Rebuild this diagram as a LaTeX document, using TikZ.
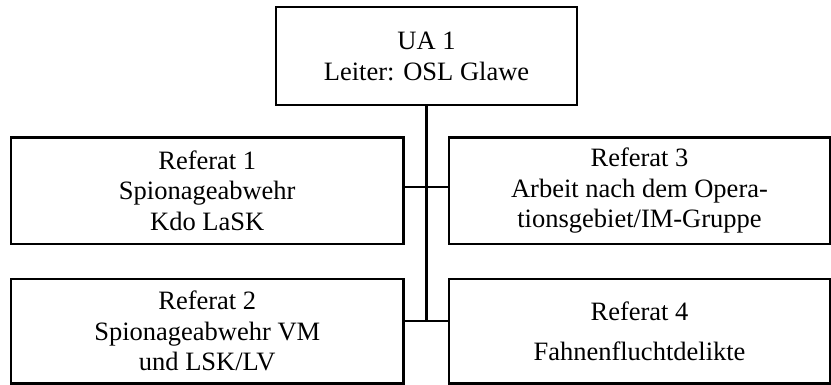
\documentclass[tikz,border=0pt]{standalone}
\usepackage{fontspec}
\setmainfont{Liberation Serif}
\begin{document}
\begin{tikzpicture}[x=1pt, y=-1pt, unitbox/.style={rectangle, draw=black, line width=2.2pt, inner sep=0pt, align=center, font=\fontsize{26.5}{30.5}\selectfont}, link/.style={line width=2.2pt, line cap=rect}]
\useasboundingbox (0,0) rectangle (831,385);
\node[unitbox, minimum width=301pt, minimum height=97.7pt] at (426.5, 56.2) (ua1) {UA 1\\Leiter: OSL Glawe};
\node[unitbox, minimum width=392.5pt, minimum height=106.5pt] at (207.25, 190.75) (ref1) {Referat 1\\Spionageabwehr\\Kdo LaSK};
\node[unitbox, minimum width=381pt, minimum height=106.5pt] at (639.5, 190.75) (ref3) {Referat 3\\Arbeit nach dem Opera-\\tionsgebiet/IM-Gruppe};
\node[unitbox, minimum width=392.5pt, minimum height=104.5pt] at (207.25, 331.25) (ref2) {Referat 2\\Spionageabwehr VM\\und LSK/LV};
\node[unitbox, minimum width=381pt, minimum height=104.5pt] at (639.5, 331.25) (ref4) {Referat 4\\[10pt]Fahnenfluchtdelikte};
\coordinate (j1) at (426.5, 187);
\coordinate (j2) at (426.5, 321);
\draw[link] (ua1.south) -- (j2);
\draw[link] (ref1.east |- j1) -- (ref3.west |- j1);
\draw[link] (ref2.east |- j2) -- (ref4.west |- j2);
\end{tikzpicture}
\end{document}
